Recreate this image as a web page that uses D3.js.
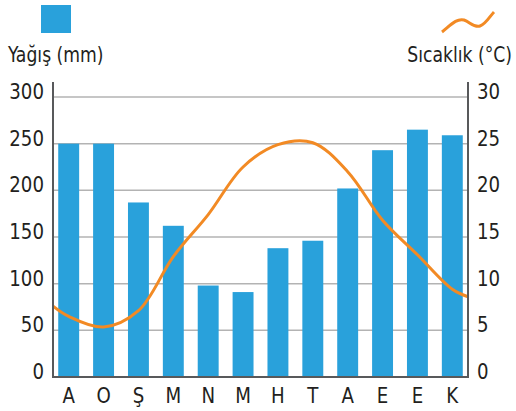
<!DOCTYPE html>
<html><head><meta charset="utf-8">
<script src="https://cdn.jsdelivr.net/npm/d3@7"></script>
<style>
body{margin:0;background:#fff;}
text{font-family:"Liberation Sans Narrow","DejaVu Sans Condensed","Liberation Sans",sans-serif;fill:#231f20;}
</style></head><body>
<svg id="c" width="516" height="411"></svg>
<script>
const months = ["A","O","Ş","M","N","M","H","T","A","E","E","K"];
const rain = [250, 250, 187, 162, 98, 91, 138, 146, 202, 243, 265, 259];
const temp = [6.5, 5.35, 7.1, 12.9, 17.4, 22.5, 24.9, 25.1, 22.0, 16.8, 13.1, 9.4];
const tempEdges = [7.6, 8.6];
const rainTicks = [0, 50, 100, 150, 200, 250, 300];
const tempTicks = [0, 5, 10, 15, 20, 25, 30];
const rainLabel = "Yağış (mm)";
const tempLabel = "Sıcaklık (°C)";

const svg = d3.select("#c");
const L = 53, R = 468, T = 97, B = 377;
const blue = "#29a1db", orange = "#f28a24";
const SX = 0.87;

const x = d3.scaleBand().domain(d3.range(months.length)).range([L, R]).paddingInner(0.4).paddingOuter(0.15);
const yR = d3.scaleLinear().domain([0, 300]).range([B, T]);
const yT = d3.scaleLinear().domain([0, 30]).range([B, T]);

function label(sel, tx, ty, anchor, sx) {
  sel.append("g").attr("transform", `translate(${tx},${ty}) scale(${sx},1)`)
    .append("text").attr("text-anchor", anchor).attr("font-size", 22);
  return sel.select("g:last-child text");
}

// gridlines
svg.append("g").selectAll("line").data(rainTicks.filter(d => d > 0)).join("line")
  .attr("x1", L).attr("x2", R).attr("y1", d => yR(d)).attr("y2", d => yR(d))
  .attr("stroke", "#b3b3b3").attr("stroke-width", 1.5);

// bars
svg.append("g").selectAll("rect").data(rain).join("rect")
  .attr("x", (d, i) => x(i)).attr("width", x.bandwidth())
  .attr("y", d => yR(d)).attr("height", d => B - yR(d))
  .attr("fill", blue);

// temperature line
const pts = [[L, tempEdges[0]]].concat(temp.map((t, i) => [x(i) + x.bandwidth() / 2, t])).concat([[R, tempEdges[1]]]);
svg.append("path").datum(pts)
  .attr("d", d3.line().x(d => d[0]).y(d => yT(d[1])).curve(d3.curveCatmullRom.alpha(0.5)))
  .attr("fill", "none").attr("stroke", orange).attr("stroke-width", 3);

// axes lines
const axisColor = "#58595b";
svg.append("path").attr("d", `M${L},82V${B}H${R}V82`).attr("fill", "none")
  .attr("stroke", axisColor).attr("stroke-width", 2);

// tick labels
svg.append("g").selectAll("g").data(rainTicks).join("g")
  .attr("transform", d => `translate(44,${yR(d) + 2}) scale(0.92,1)`)
  .append("text").attr("text-anchor", "end").attr("font-size", 22).text(d => d);
svg.append("g").selectAll("g").data(tempTicks).join("g")
  .attr("transform", d => `translate(477,${yT(d) + 2}) scale(0.92,1)`)
  .append("text").attr("text-anchor", "start").attr("font-size", 22).text(d => d);
svg.append("g").selectAll("g").data(months).join("g")
  .attr("transform", (d, i) => `translate(${x(i) + x.bandwidth() / 2},403) scale(0.92,1)`)
  .append("text").attr("text-anchor", "middle").attr("font-size", 22).text(d => d);

// legend
svg.append("rect").attr("x", 41).attr("y", 5).attr("width", 30).attr("height", 28).attr("fill", blue);
svg.append("g").attr("transform", `translate(8,62) scale(${SX},1)`)
  .append("text").attr("font-size", 22).text(rainLabel);
svg.append("path").attr("d", "M442,32 C450,26 456,18 464,20 C470,22 474,28 480,26 C486,24 490,16 494,12")
  .attr("fill", "none").attr("stroke", orange).attr("stroke-width", 3);
svg.append("g").attr("transform", `translate(512,62) scale(${SX},1)`)
  .append("text").attr("text-anchor", "end").attr("font-size", 22).text(tempLabel);
</script>
</body></html>
